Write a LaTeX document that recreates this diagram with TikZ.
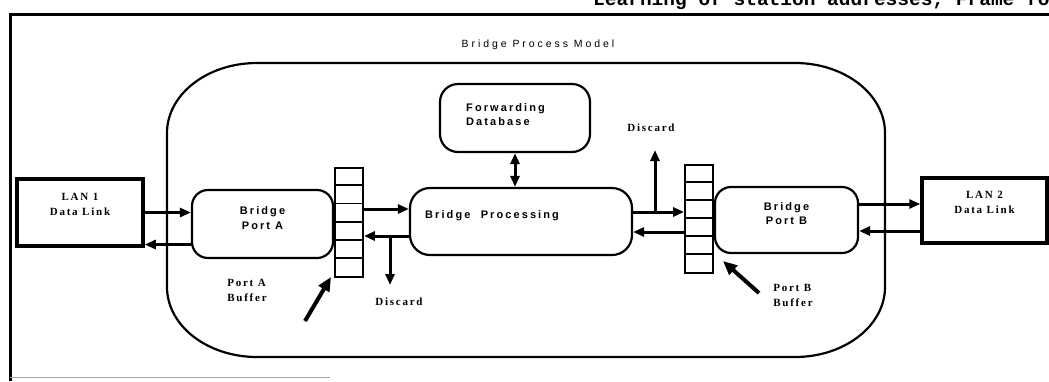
\documentclass[tikz,border=0pt]{standalone}
\usepackage{fontspec}
\setmainfont{Liberation Serif}
\newfontfamily\boxfont[LetterSpace=19]{Liberation Sans}
\newfontfamily\serfont[LetterSpace=16]{Liberation Serif}
\newfontfamily\titlefont[LetterSpace=28]{Liberation Sans}
\newfontfamily\pagefont{Liberation Mono}
\usetikzlibrary{arrows.meta,calc}
\tikzset{
  rbox/.style={draw, line width=2.2pt, rounded corners=16pt, inner sep=0pt},
  lanbox/.style={draw, line width=3.5pt, inner sep=0pt},
  buf/.style={draw, line width=1.8pt, inner sep=0pt, minimum width=28pt},
  sanslbl/.style={font=\boxfont\bfseries\fontsize{11}{14.5}\selectfont, align=left, inner sep=0pt},
  serlbl/.style={font=\serfont\bfseries\fontsize{11}{15}\selectfont, align=center, inner sep=0pt},
  serlbll/.style={font=\serfont\bfseries\fontsize{11}{15}\selectfont, align=left, inner sep=0pt},
  arr/.style={line width=3pt, -{Triangle[length=11pt,width=9pt]}},
  darr/.style={line width=3pt, {Triangle[length=11pt,width=9pt]}-{Triangle[length=11pt,width=9pt]}},
  ptr/.style={line width=4pt, -{Triangle[length=14pt,width=12pt]}},
}
\begin{document}
\begin{tikzpicture}[x=1pt,y=-1pt]
\useasboundingbox (0,0) rectangle (1049,381);
\fill[white] (0,0) rectangle (1049,381);
% cut-off text line from the page above
\node[anchor=base west, inner sep=0pt, font=\pagefont\bfseries\fontsize{19.5}{22}\selectfont] (pagetext) at (593,5.5) {Learning of station addresses, Frame fo};
% outer frame
\draw[line width=3pt] (1049,14) -- (10,14) -- (10,381);
\draw[line width=0.8pt, black!35] (10,377) -- (330,377);
% title
\node[font=\titlefont\fontsize{10.5}{12}\selectfont, inner sep=0pt] (title) at (538,45) {Bridge Process Model};
% bridge process outline
\draw[line width=2.2pt] (257,63) -- (795,63)
  arc[start angle=90, end angle=0, x radius=90pt, y radius=70pt] -- (885,287)
  arc[start angle=0, end angle=-90, x radius=90pt, y radius=70pt] -- (257,357)
  arc[start angle=270, end angle=180, x radius=90pt, y radius=70pt] -- (167,133)
  arc[start angle=180, end angle=90, x radius=90pt, y radius=70pt] -- cycle;
% boxes
\node[lanbox, minimum width=126pt, minimum height=67pt] (lan1) at (80,212.5) {};
\node[serlbl] (lan1t) at (80,204) {LAN 1\\Data Link};
\node[lanbox, minimum width=125pt, minimum height=65pt] (lan2) at (984.5,210.5) {};
\node[serlbl] (lan2t) at (984.5,202) {LAN 2\\Data Link};
\node[rbox, minimum width=141pt, minimum height=68pt] (pa) at (262.5,224) {};
\node[sanslbl, align=center] (pat) at (262.5,218) {Bridge\\Port A};
\node[rbox, minimum width=143pt, minimum height=66pt] (pb) at (786.5,220) {};
\node[sanslbl, align=center] (pbt) at (786.5,213.5) {Bridge\\Port B};
\node[rbox, rounded corners=20pt, minimum width=222pt, minimum height=67pt] (bp) at (521,221.5) {};
\node[sanslbl, anchor=west] (bpt) at (425,216) {Bridge\ \ Processing};
\node[rbox, rounded corners=18pt, minimum width=150pt, minimum height=68pt] (fd) at (515,118) {};
\node[sanslbl, anchor=west] (fdt) at (466,114.5) {Forwarding\\Database};
% buffers
\node[buf, minimum height=109pt] (bufa) at (349,222.5) {};
\foreach \i in {1,...,5}
  \draw[line width=1.8pt] ($(bufa.north west)+(0,\i*18.17)$) -- ($(bufa.north east)+(0,\i*18.17)$);
\node[buf, minimum height=108pt] (bufb) at (699,219) {};
\foreach \i in {1,...,5}
  \draw[line width=1.8pt] ($(bufb.north west)+(0,\i*18)$) -- ($(bufb.north east)+(0,\i*18)$);
% flows
\draw[arr] (lan1.east) -- (lan1.east -| pa.west);
\draw[arr] ([yshift=-20.5pt]pa.west) -- ([yshift=-20.5pt]pa.west -| lan1.east);
\draw[arr] ([yshift=13.5pt]bufa.east) -- ([yshift=13.5pt]bufa.east -| bp.west);
\draw[arr] ([yshift=-14.5pt]bp.west) -- ([yshift=-14.5pt]bp.west -| bufa.east);
\draw[arr] ([yshift=9.5pt]bp.east) -- ([yshift=9.5pt]bp.east -| bufb.west);
\draw[arr] ([yshift=-13pt]bufb.west) -- ([yshift=-13pt]bufb.west -| bp.east);
\draw[arr] ([yshift=16pt]pb.east) -- ([yshift=16pt]pb.east -| lan2.west);
\draw[arr] ([yshift=-20.5pt]lan2.west) -- ([yshift=-20.5pt]lan2.west -| pb.east);
\draw[darr] (fd.south) -- (fd.south |- bp.north);
% discards
\coordinate (da) at (390,236);
\coordinate (dae) at (390,285);
\draw[arr] (da) -- (dae);
\node[serlbl] (dat) at (399,302) {Discard};
\coordinate (db) at (655,212);
\coordinate (dbe) at (655,150);
\draw[arr] (db) -- (dbe);
\node[serlbl] (dbt) at (651,128) {Discard};
% buffer labels
\node[serlbll] (bat) at (247,290) {Port A\\Buffer};
\coordinate (pas) at (305,321);
\coordinate (pae) at (331,277);
\draw[ptr] (pas) -- (pae);
\node[serlbll] (bbt) at (793,295) {Port B\\Buffer};
\coordinate (pbs) at (759,293);
\coordinate (pbe) at (723,261);
\draw[ptr] (pbs) -- (pbe);
\end{tikzpicture}
\end{document}
